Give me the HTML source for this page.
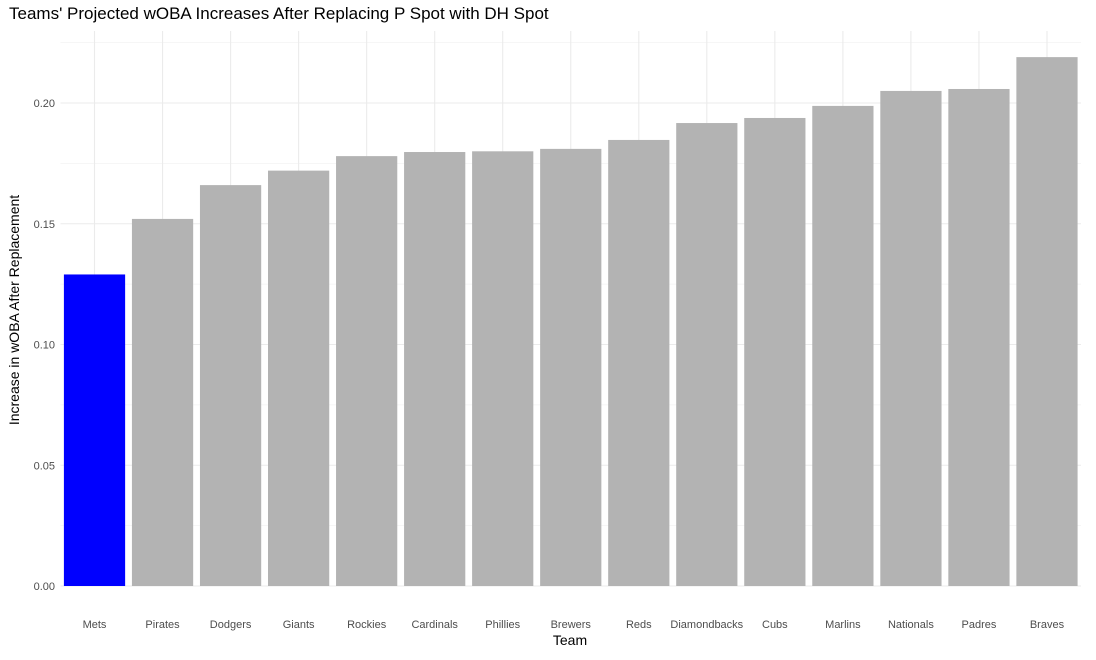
<!DOCTYPE html>
<html><head><meta charset="utf-8"><style>
body{margin:0;background:#fff;font-family:"Liberation Sans",sans-serif}
</style></head><body>
<svg id="chart" width="1096" height="655" xmlns="http://www.w3.org/2000/svg" font-family="Liberation Sans, sans-serif">
<text x="9" y="19" font-size="17" fill="#000">Teams' Projected wOBA Increases After Replacing P Spot with DH Spot</text>
<g id="grid"></g><g id="bars"></g><g id="xlabels"></g><g id="ylabels"></g>
<text x="570" y="645" font-size="14" text-anchor="middle">Team</text>
<text transform="translate(19,310) rotate(-90)" font-size="14" text-anchor="middle">Increase in wOBA After Replacement</text>
</svg>
<script>
const teams=["Mets","Pirates","Dodgers","Giants","Rockies","Cardinals","Phillies","Brewers","Reds","Diamondbacks","Cubs","Marlins","Nationals","Padres","Braves"];
const values=[0.129,0.152,0.166,0.172,0.178,0.1797,0.180,0.181,0.1847,0.1917,0.1938,0.1988,0.205,0.2058,0.219];
const yTicks=[0,0.05,0.10,0.15,0.20];
const yTickLabels=["0.00","0.05","0.10","0.15","0.20"];
const NS="http://www.w3.org/2000/svg";
const plotLeft=60.5,plotRight=1081,plotTop=31,y0=586,pxPer=(586-103)/0.2;
const yScale=v=>y0-v*pxPer;
const step=(plotRight-plotLeft)/teams.length;
const xScale=i=>plotLeft+step*(i+0.5);
function mk(tag,attrs,parent){const e=document.createElementNS(NS,tag);for(const k in attrs)e.setAttribute(k,attrs[k]);document.getElementById(parent).appendChild(e);return e;}
for(let i=0;i<yTicks.length;i++){const m=yTicks[i]+0.025;const l=mk('line',{x1:plotLeft,x2:plotRight,y1:yScale(m),y2:yScale(m),stroke:'#f3f3f3','stroke-width':0.8},'grid');

}
yTicks.forEach((t,i)=>{const l=mk('line',{x1:plotLeft,x2:plotRight,y1:yScale(t),y2:yScale(t),stroke:'#ebebeb','stroke-width':1.1},'grid');


const tx=mk('text',{x:55,y:yScale(t)+4,'font-size':11,fill:'#4d4d4d','text-anchor':'end'},'ylabels');tx.textContent=yTickLabels[i];

});
teams.forEach((t,i)=>{const l=mk('line',{x1:xScale(i),x2:xScale(i),y1:plotTop,y2:y0,stroke:'#ebebeb','stroke-width':1.1},'grid');


const bw=step*0.9;
const r=mk('rect',{x:xScale(i)-bw/2,y:yScale(values[i]),width:bw,height:y0-yScale(values[i]),fill:i===0?'#0000ff':'#b3b3b3'},'bars');


const tx=mk('text',{x:xScale(i),y:628,'font-size':11,fill:'#4d4d4d','text-anchor':'middle'},'xlabels');tx.textContent=t;

});
</script>
</body></html>
